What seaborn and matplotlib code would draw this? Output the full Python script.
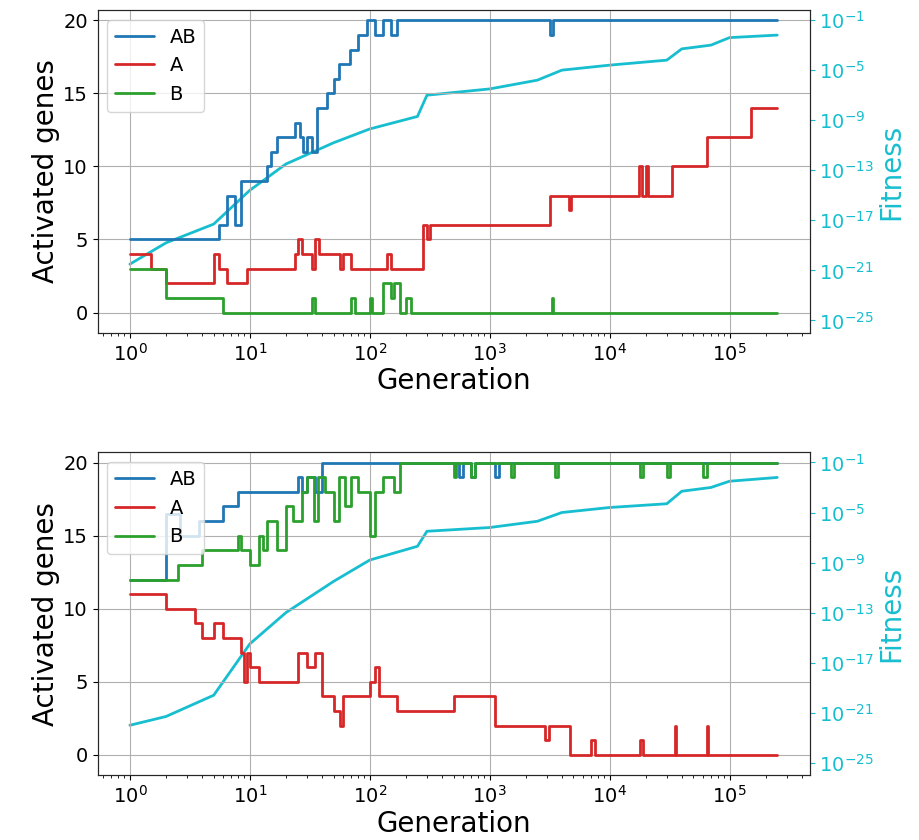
import numpy as np
import matplotlib
matplotlib.use("Agg")
import matplotlib.pyplot as plt
import seaborn as sns

# --- panel 1 ---
top_ab_gen = [1, 4.5, 5.5, 6.5, 7.5, 8.5, 14, 15, 17, 24, 26, 28, 30, 33, 36, 44, 50, 55, 68, 80, 95, 110, 130, 150, 170, 200, 3200, 3400, 250000]
top_ab_val = [5, 5, 6, 8, 6, 9, 10, 11, 12, 13, 12, 11, 12, 11, 14, 15, 16, 17, 18, 19, 20, 19, 20, 19, 20, 20, 19, 20, 20]
top_a_gen = [1, 1.5, 2, 4.5, 5, 5.5, 6.5, 9.5, 24, 25, 27, 33, 35, 38, 40, 57, 60, 70, 140, 150, 160, 280, 300, 320, 3200, 3400, 4600, 4800, 17500, 18500, 20000, 21000, 33000, 35000, 65000, 150000, 250000]
top_a_val = [4, 3, 2, 2, 4, 3, 2, 3, 4, 5, 4, 3, 5, 4, 4, 3, 4, 3, 4, 3, 3, 6, 5, 6, 8, 8, 7, 8, 10, 8, 10, 8, 10, 10, 12, 14, 14]
top_b_gen = [1, 2, 5.5, 6, 33, 35, 70, 75, 100, 105, 130, 150, 160, 180, 200, 220, 280, 3300, 3400, 250000]
top_b_val = [3, 1, 1, 0, 1, 0, 1, 0, 1, 0, 2, 1, 2, 0, 1, 0, 0, 1, 0, 0]
top_fit_gen = [1, 2, 5, 10, 20, 50, 100, 250, 300, 1000, 2500, 4000, 10000, 30000, 40000, 70000, 100000, 250000]
top_fit_log = [-20.5, -18.8, -17.3, -14.6, -12.5, -10.8, -9.7, -8.7, -7, -6.5, -5.8, -5, -4.6, -4.2, -3.3, -3, -2.4, -2.2]

# --- panel 2 ---
bot_ab_gen = [1, 2, 2.6, 3.8, 6, 8, 25, 27, 30, 35, 40, 550, 600, 700, 750, 1100, 1200, 250000]
bot_ab_val = [12, 16.5, 15, 16, 17, 18, 19, 18, 19, 18, 20, 19, 20, 19, 20, 19, 20, 20]
bot_b_gen = [1, 2, 2.5, 4, 7, 8, 8.5, 10, 12, 13, 14, 17, 20, 23, 27, 30, 34, 37, 42, 50, 55, 62, 70, 80, 100, 110, 130, 160, 180, 500, 520, 700, 750, 1500, 1600, 3500, 3700, 18000, 19000, 30000, 32000, 60000, 65000, 250000]
bot_b_val = [12, 12, 13, 14, 14, 15, 14, 13, 15, 14, 16, 14, 17, 16, 18, 19, 16, 19, 18, 16, 19, 17, 19, 18, 15, 18, 19, 18, 20, 19, 20, 19, 20, 19, 20, 19, 20, 19, 20, 19, 20, 19, 20, 20]
bot_a_gen = [1, 2, 3.5, 4, 5, 6, 8.5, 9, 9.5, 10, 12, 25, 30, 35, 40, 50, 57, 60, 100, 110, 120, 170, 500, 1000, 1100, 2900, 3100, 4700, 7000, 7500, 18000, 19000, 35000, 36000, 65000, 66000, 250000]
bot_a_val = [11, 10, 9, 8, 9, 8, 7, 5, 7, 6, 5, 7, 6, 7, 4, 3, 2, 4, 5, 6, 4, 3, 4, 4, 2, 1, 2, 0, 1, 0, 1, 0, 2, 0, 2, 0, 0]
bot_fit_gen = [1, 2, 5, 10, 20, 50, 100, 250, 300, 1000, 2500, 4000, 10000, 30000, 40000, 70000, 100000, 250000]
bot_fit_log = [-22, -21.3, -19.6, -15.5, -13, -10.5, -8.8, -7.7, -6.5, -6.2, -5.7, -5, -4.6, -4.3, -3.3, -3, -2.5, -2.2]

sns.set_style("ticks")
plt.rcParams['font.family'] = ['DejaVu Sans']
plt.rcParams['text.color'] = 'black'
plt.rcParams['axes.labelcolor'] = 'black'
plt.rcParams['xtick.color'] = 'black'
plt.rcParams['ytick.color'] = 'black'

fig, axes = plt.subplots(2, 1, figsize=(9.2, 8.4), dpi=100)
panels = [
    (top_ab_gen, top_ab_val, top_a_gen, top_a_val, top_b_gen, top_b_val, top_fit_gen, top_fit_log),
    (bot_ab_gen, bot_ab_val, bot_a_gen, bot_a_val, bot_b_gen, bot_b_val, bot_fit_gen, bot_fit_log),
]
for ax, p in zip(axes, panels):
    ab_g, ab_v, a_g, a_v, b_g, b_v, f_g, f_l = p
    ax2 = ax.twinx()
    ax2.plot(f_g, 10.0 ** np.array(f_l), color="tab:cyan", lw=2)
    ax2.set_yscale("log")
    ax2.set_ylim(10 ** -26.0, 10 ** -0.2)
    ax2.set_yticks([10.0 ** k for k in range(-25, 0, 4)])
    ax2.minorticks_off()
    ax2.tick_params(axis="y", colors="tab:cyan", labelsize=14)
    ax2.set_ylabel("Fitness", color="tab:cyan", fontsize=20, labelpad=2)

    ax.plot(ab_g, ab_v, color="tab:blue", lw=2, drawstyle="steps-post", label="AB")
    ax.plot(a_g, a_v, color="tab:red", lw=2, drawstyle="steps-post", label="A")
    ax.plot(b_g, b_v, color="tab:green", lw=2, drawstyle="steps-post", label="B")
    ax.set_zorder(ax2.get_zorder() + 1)
    ax.patch.set_visible(False)
    ax.set_xscale("log")
    ax.set_ylim(-1.4, 20.7)
    ax.set_yticks([0, 5, 10, 15, 20])
    ax.grid(True, color="#b0b0b0", lw=0.8)
    ax.tick_params(labelsize=14)
    ax.set_xlabel("Generation", fontsize=20, labelpad=2)
    ax.set_ylabel("Activated genes", fontsize=20, labelpad=2)
    ax.legend(loc="upper left", fontsize=14)

fig.subplots_adjust(left=0.106, right=0.88, top=0.988, bottom=0.077, hspace=0.37)
fig.savefig("out.png")
